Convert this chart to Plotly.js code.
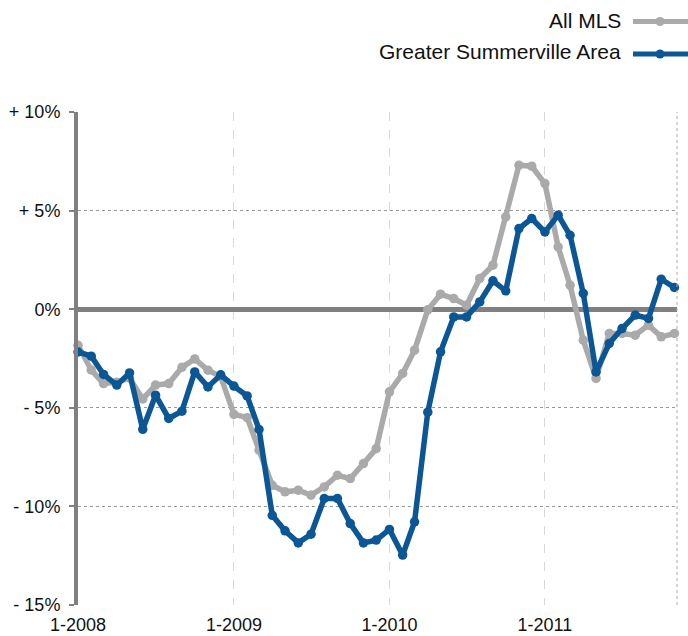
<!DOCTYPE html>
<html>
<head>
<meta charset="utf-8">
<script src="https://cdn.plot.ly/plotly-3.0.1.min.js"></script>
<style>html,body{margin:0;padding:0;background:#fff}#chart{width:688px;height:636px}</style>
</head>
<body>
<div id="chart"></div>
<script>
const months = ['2008-01','2008-02','2008-03','2008-04','2008-05','2008-06','2008-07','2008-08','2008-09','2008-10','2008-11','2008-12',
  '2009-01','2009-02','2009-03','2009-04','2009-05','2009-06','2009-07','2009-08','2009-09','2009-10','2009-11','2009-12',
  '2010-01','2010-02','2010-03','2010-04','2010-05','2010-06','2010-07','2010-08','2010-09','2010-10','2010-11','2010-12',
  '2011-01','2011-02','2011-03','2011-04','2011-05','2011-06','2011-07','2011-08','2011-09','2011-10','2011-11'];
const seriesNames = ['All MLS', 'Greater Summerville Area'];
const allMLS = [-1.83,-3.08,-3.77,-3.7,-3.5,-4.55,-3.85,-3.77,-2.95,-2.52,-3.09,-3.42,
  -5.33,-5.5,-7.15,-8.93,-9.26,-9.18,-9.43,-9.01,-8.42,-8.59,-7.83,-7.07,
  -4.19,-3.26,-2.08,-0.03,0.76,0.54,0.2,1.56,2.23,4.68,7.3,7.25,
  6.37,3.16,1.22,-1.57,-3.51,-1.23,-1.23,-1.32,-0.81,-1.4,-1.23];
const summerville = [-2.17,-2.38,-3.31,-3.85,-3.23,-6.09,-4.36,-5.54,-5.17,-3.18,-3.94,-3.33,
  -3.9,-4.4,-6.1,-10.45,-11.24,-11.85,-11.41,-9.6,-9.6,-10.87,-11.85,-11.71,
  -11.17,-12.47,-10.78,-5.22,-2.16,-0.39,-0.39,0.37,1.44,0.93,4.09,4.6,
  3.92,4.77,3.75,0.8,-3.18,-1.74,-0.98,-0.3,-0.47,1.52,1.1];
const yTickVals = [10, 5, 0, -5, -10, -15];
const yTickText = ['+ 10%', '+ 5%', '0%', '- 5%', '- 10%', '- 15%'];
const xTickVals = ['2008-01-01', '2009-01-01', '2010-01-01', '2011-01-01'];
const xTickText = ['1-2008', '1-2009', '1-2010', '1-2011'];
const colors = ['#aaaaaa', '#0b5796'];

const traces = [allMLS, summerville].map((vals, i) => ({
  type: 'scatter', mode: 'lines+markers', x: months, y: vals, name: seriesNames[i],
  line: {color: colors[i], width: 5.5}, marker: {color: colors[i], size: 9.5},
  cliponaxis: false, showlegend: false
}));

const W = 599, H = 493, L = 78, T = 112;
const px = v => (v - L) / W;
const py = v => (T + H - v) / H;
const legendTextY = [21, 51.5];
const legendLineY = [21.5, 54];
const shapes = [
  {type: 'line', xref: 'paper', yref: 'paper', x0: 1, x1: 1, y0: 0, y1: 1, line: {color: '#aaaaaa', width: 1, dash: 'dot'}}
];
const annotations = [];
seriesNames.forEach((n, i) => {
  annotations.push({xref: 'paper', yref: 'paper', x: px(623), y: py(legendTextY[i]), xanchor: 'right', yanchor: 'middle',
    text: n, showarrow: false, font: {family: 'Liberation Sans, Arial, sans-serif', size: 21, color: '#111'}});
  shapes.push({type: 'line', xref: 'paper', yref: 'paper', x0: px(633), x1: px(692), y0: py(legendLineY[i]), y1: py(legendLineY[i]),
    line: {color: colors[i], width: 5}});
  shapes.push({type: 'circle', xref: 'paper', yref: 'paper', xsizemode: 'pixel', ysizemode: 'pixel',
    xanchor: px(660), yanchor: py(legendLineY[i]), x0: -4.5, x1: 4.5, y0: -4.5, y1: 4.5,
    fillcolor: colors[i], line: {width: 0}});
});

const layout = {
  width: 688, height: 636,
  margin: {l: 78, r: 11, t: 112, b: 31, pad: 0},
  paper_bgcolor: '#fff', plot_bgcolor: '#fff',
  font: {family: 'Liberation Sans, Arial, sans-serif', size: 18, color: '#111'},
  xaxis: {
    type: 'date', range: ['2008-01-01', '2011-11-07'],
    tickvals: xTickVals, ticktext: xTickText, ticks: '',
    showgrid: true, gridcolor: '#d8d8d8', griddash: 'dash', gridwidth: 1,
    showline: false, zeroline: false, tickfont: {size: 18, color: '#111'}, ticklabelstandoff: 7
  },
  yaxis: {
    range: [-15, 10], tickvals: yTickVals, ticktext: yTickText,
    ticks: 'outside', ticklen: 5, tickwidth: 2, tickcolor: '#808080',
    showgrid: true, gridcolor: '#999999', griddash: 'dot', gridwidth: 1,
    showline: true, linecolor: '#808080', linewidth: 4,
    zeroline: true, zerolinecolor: '#808080', zerolinewidth: 5,
    tickfont: {size: 18, color: '#111'}, ticklabelstandoff: 5
  },
  shapes: shapes, annotations: annotations, showlegend: false
};
Plotly.newPlot('chart', traces, layout, {displayModeBar: false, staticPlot: true});
</script>
</body>
</html>
